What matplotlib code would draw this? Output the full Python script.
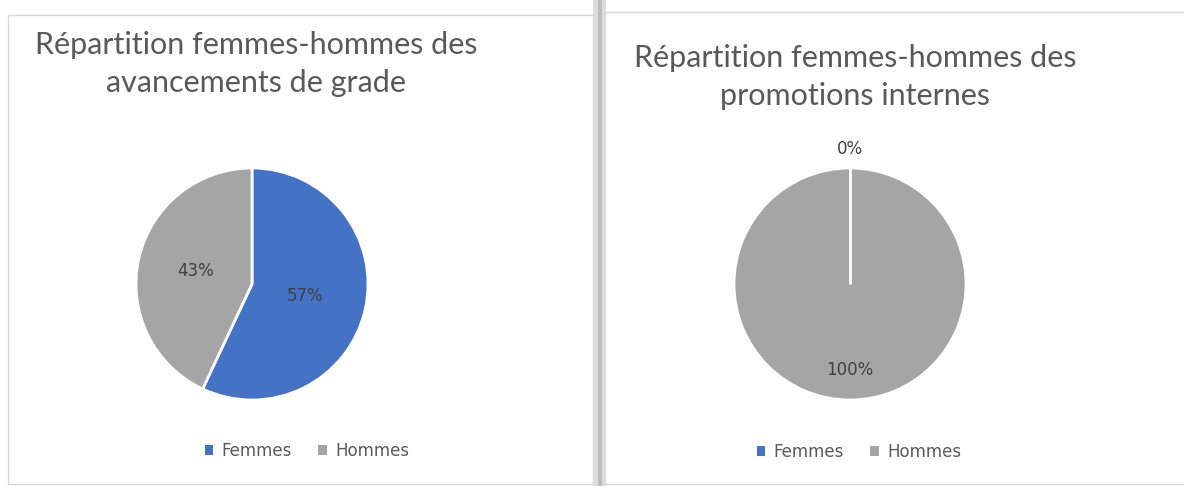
import matplotlib.pyplot as plt
from matplotlib.patches import Rectangle
import numpy as np

W, H = 1184, 486

categories = ['Femmes', 'Hommes']
colors = ['#4472C4', '#A5A5A5']

title_left = 'Répartition femmes-hommes des\navancements de grade'
values_left = [57, 43]

title_right = 'Répartition femmes-hommes des\npromotions internes'
values_right = [0, 100]

# label distance from centre (fraction of radius) for each slice
label_dist_left = [0.47, 0.50]
label_dist_right = [1.16, 0.74]

fig = plt.figure(figsize=(W / 100, H / 100), dpi=100)


def fx(x):
    return x / W


def fy(y):
    return 1 - y / H


def frame(x, y, w, h, **kw):
    fig.patches.append(Rectangle((fx(x), fy(y + h)), w / W, h / H,
                                 transform=fig.transFigure, zorder=-5, **kw))


# panel frames (pixel boxes from the screenshot)
frame(593, 0, 13, 486, facecolor='#dcdcdc', edgecolor='none')
frame(598, 0, 4, 486, facecolor='#bdbdbd', edgecolor='none')
frame(8, 15, 585, 469, facecolor='white', edgecolor='#d9d9d9', lw=1)
frame(605, 12, 590, 472, facecolor='white', edgecolor='#d9d9d9', lw=1)


def draw_pie(cx, cy, r, values, label_dist, title, tx, ty, ly, lx):
    ax = fig.add_axes([fx(cx - r), fy(cy + r), fx(2 * r), 2 * r / H])
    wedges, _ = ax.pie(values, colors=colors, startangle=90, counterclock=False,
                       wedgeprops=dict(edgecolor='white', linewidth=2))
    ax.set_xlim(-1, 1)
    ax.set_ylim(-1, 1)
    ax.set_aspect('equal')
    ax.axis('off')
    total = sum(values)
    for w, v, d in zip(wedges, values, label_dist):
        mid = np.deg2rad((w.theta1 + w.theta2) / 2)
        if v == 0:
            # empty slice: only its border line shows
            ax.plot([0, np.cos(mid)], [0, np.sin(mid)], color='white', lw=2,
                    solid_capstyle='butt')
        ax.text(d * np.cos(mid), d * np.sin(mid), '{:.0f}%'.format(100 * v / total),
                ha='center', va='center', fontsize=12, color='#404040',
                family='DejaVu Sans', clip_on=False)
    fig.text(fx(tx), fy(ty), title, ha='center', va='center', fontsize=22,
             color='#595959', family='Lato', linespacing=1.4)
    leg = ax.legend(wedges, categories, loc='center', bbox_to_anchor=(fx(lx), fy(ly)),
                    bbox_transform=fig.transFigure, ncol=2, frameon=False,
                    handlelength=0.5, handleheight=0.5, handletextpad=0.5,
                    columnspacing=1.6, prop=dict(family='DejaVu Sans', size=12))
    for t in leg.get_texts():
        t.set_color('#595959')
    for p in leg.get_patches():
        p.set_edgecolor('none')


draw_pie(252, 284, 116, values_left, label_dist_left, title_left, 256, 64, 451, 307)
draw_pie(850, 284, 116, values_right, label_dist_right, title_right, 855, 77, 452, 859)

fig.savefig('out.png', dpi=100)
